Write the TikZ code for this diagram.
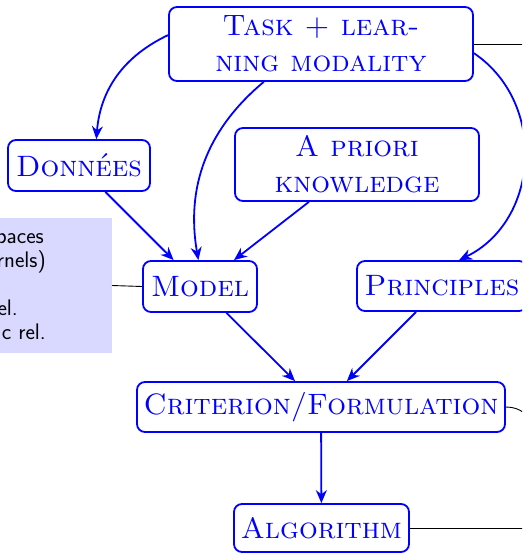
\documentclass[tikz,border=0pt]{standalone}
\usetikzlibrary{arrows.meta}
\begin{document}
\begin{tikzpicture}[x=1pt,y=1pt,
  blk/.style={draw=blue, line width=1.8pt, text=blue, rounded corners=8pt,
    font=\fontsize{29.5}{36}\selectfont\scshape, align=center, inner sep=0pt},
  arr/.style={draw=blue, line width=1.8pt, -{Stealth[length=13pt,width=11pt]}},
  thinline/.style={draw=black, line width=0.9pt},
  notetext/.style={font=\fontsize{22.5}{24}\selectfont\sffamily, inner sep=0pt, anchor=base east}]
\useasboundingbox (0,0) rectangle (522,-554);
\clip (0,0) rectangle (522,-554);
% side note (cut off at the left)
\node[fill=blue!15, minimum width=150pt, minimum height=135pt, anchor=east, inner sep=0pt] (note) at (112,-285.5) {};
\node[notetext] (n1) at (44,-243) {paces};
\node[notetext] (n2) at (46,-267) {rnels)};
\node[notetext] (n3) at (18,-315) {el.};
\node[notetext] (n4) at (46,-339) {c rel.};
% main nodes
\node[blk, minimum width=304pt, minimum height=74pt] (task) at (321,-44) {Task + lear-\\ning modality};
\node[blk, minimum width=142pt, minimum height=51pt] (donnees) at (79,-165.5) {Données};
\node[blk, minimum width=244pt, minimum height=73pt] (apriori) at (357,-164.5) {A priori\\knowledge};
\node[blk, minimum width=114pt, minimum height=51pt] (model) at (200,-286.5) {Model};
\node[blk, minimum width=170pt, minimum height=50pt] (principles) at (442,-286) {Principles};
\node[blk, minimum width=368pt, minimum height=50pt] (crit) at (321,-407) {Criterion/Formulation};
\node[blk, minimum width=175pt, minimum height=48pt] (algo) at (321.5,-528) {Algorithm};
% arrows
\draw[arr] (task) to[bend right] (donnees);
\draw[arr] (task) to[bend right] (model);
\draw[arr] (task) to[bend left=60, looseness=1.1] (principles);
\draw[arr] (donnees) -- (model);
\draw[arr] (apriori) -- (model);
\draw[arr] (model) -- (crit);
\draw[arr] (principles) -- (crit);
\draw[arr] (crit) -- (algo);
% thin connectors leaving the picture
\coordinate (r1) at (560,-44);
\coordinate (r2) at (560,-528);
\coordinate (r3) at (550,-470);
\draw[thinline] (task.east) -- (r1);
\draw[thinline] (model.west) -- (note.east);
\draw[thinline] (algo.east) -- (r2);
\draw[thinline] (crit.east) to[out=0,in=110] (r3);
\end{tikzpicture}
\end{document}
